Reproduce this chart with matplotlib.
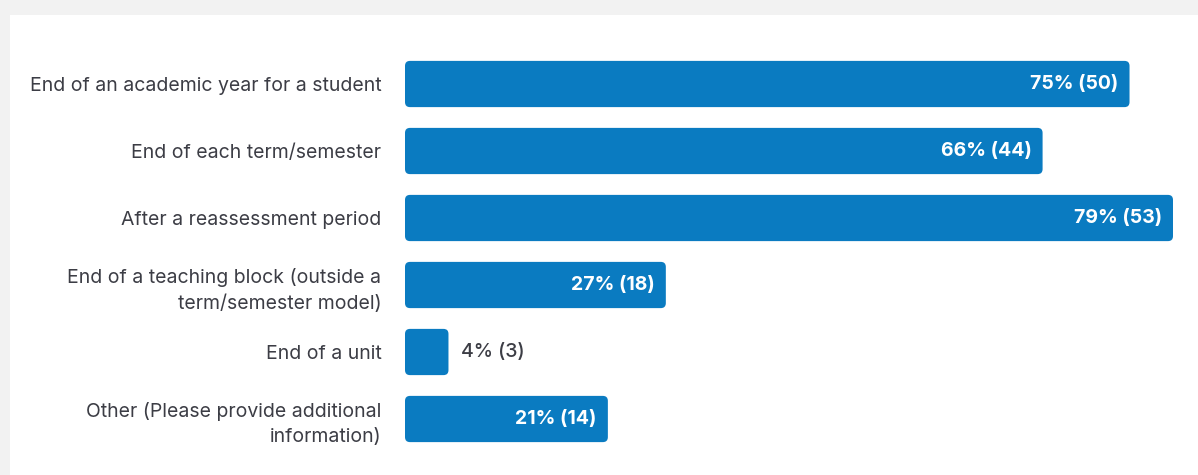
import matplotlib.pyplot as plt
from matplotlib.patches import FancyBboxPatch, Rectangle

# survey responses (n = 67)
categories = [
    'End of an academic year for a student',
    'End of each term/semester',
    'After a reassessment period',
    'End of a teaching block (outside a\nterm/semester model)',
    'End of a unit',
    'Other (Please provide additional\ninformation)',
]
counts = [50, 44, 53, 18, 3, 14]
percents = [75, 66, 79, 27, 4, 21]

bar_color = '#0a7bc1'
text_color = '#3c3d45'

plt.rcParams['font.family'] = ['Inter', 'DejaVu Sans']

W, H = 1198, 475
fig = plt.figure(figsize=(W / 100, H / 100), dpi=100)
fig.patch.set_facecolor('#f2f2f2')

# white card behind the chart
fig.add_artist(Rectangle((10 / W, 0), 1, 1 - 15 / H, transform=fig.transFigure,
                         facecolor='white', edgecolor='none', zorder=-10))

ax_left, ax_right = 405, 1173
ax_top, ax_bottom = 50.5, 452.5
ax = fig.add_axes([ax_left / W, 1 - ax_bottom / H,
                   (ax_right - ax_left) / W, (ax_bottom - ax_top) / H])
ax.set_facecolor('none')
ax.set_xlim(0, max(counts))
ax.set_ylim(len(categories) - 0.5, -0.5)
for s in ax.spines.values():
    s.set_visible(False)
ax.set_xticks([])
ax.set_yticks(range(len(categories)))
ax.set_yticklabels(categories, fontsize=14, color=text_color, linespacing=1.5)
ax.tick_params(axis='y', length=0, pad=17)

bar_h = 0.69
x_px = (ax_right - ax_left) / max(counts)
y_px = (ax_bottom - ax_top) / len(categories)
radius = 5
bars = ax.barh(range(len(categories)), counts, height=bar_h, color='none')
for bar in bars:
    x, y = bar.get_x(), bar.get_y()
    w, h = bar.get_width(), bar.get_height()
    ax.add_patch(FancyBboxPatch(
        (x, y), w, h,
        boxstyle=f'round,pad=0,rounding_size={radius / x_px}',
        mutation_aspect=(x_px / y_px),
        facecolor=bar_color, edgecolor='none', clip_on=False))

for i, (c, p) in enumerate(zip(counts, percents)):
    label = f'{p}% ({c})'
    if c >= 10:
        ax.annotate(label, (c, i), xytext=(-8, 0), textcoords='offset points',
                    ha='right', va='center', fontsize=14, fontweight='bold',
                    color='white')
    else:
        ax.annotate(label, (c, i), xytext=(9, 0), textcoords='offset points',
                    ha='left', va='center', fontsize=14, fontweight='medium',
                    color=text_color)

fig.savefig('out.png', dpi=100, facecolor=fig.get_facecolor())
